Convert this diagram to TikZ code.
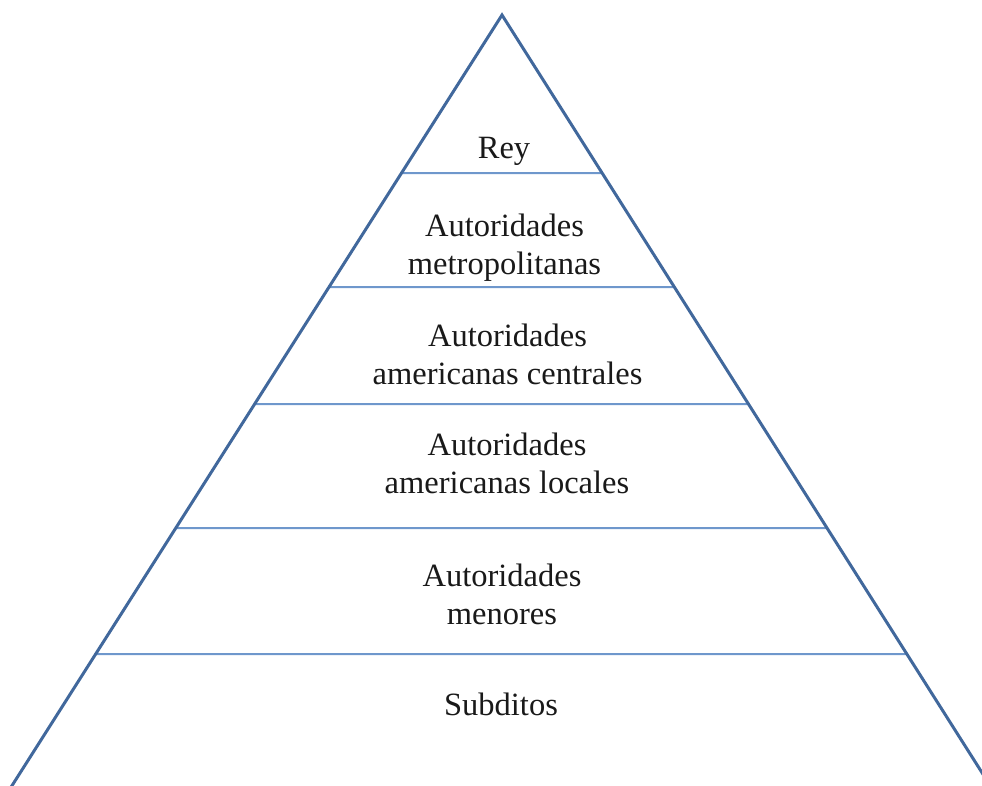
\documentclass[tikz,border=0pt]{standalone}
\usepackage{fontspec}
\setmainfont{Liberation Serif}
\definecolor{edgeblue}{HTML}{41689C}
\definecolor{tierblue}{HTML}{6E97CC}
\begin{document}
\begin{tikzpicture}[x=1pt,y=-1pt,
  side/.style={draw=edgeblue,line width=3pt},
  tier/.style={draw=tierblue,line width=2pt},
  lbl/.style={anchor=base,align=center,inner sep=0pt,font=\fontsize{32.5}{37.5}\selectfont,text=black!90}]
\useasboundingbox (0,0) rectangle (982,785);
\clip (0,0) rectangle (982,785);
\coordinate (apex) at (502,15);
\coordinate (bl) at (-3.5,810);
\coordinate (br) at (1002.5,805);
\foreach \n/\y in {a/173,b/287,c/404,d/528,e/654}{
  \path (intersection of apex--bl and 0,\y--982,\y) coordinate (l\n);
  \path (intersection of apex--br and 0,\y--982,\y) coordinate (r\n);
  \draw[tier] (l\n) -- (r\n);
}
\draw[side] (bl) -- (apex) -- (br);
\node[lbl] (rey) at (504,158) {Rey};
\node[lbl] (metro) at (504.5,274) {Autoridades\\metropolitanas};
\node[lbl] (centr) at (507.5,384) {Autoridades\\americanas centrales};
\node[lbl] (local) at (507,493) {Autoridades\\americanas locales};
\node[lbl] (menor) at (502,624) {Autoridades\\menores};
\node[lbl] (subd) at (501,715) {Subditos};
\end{tikzpicture}
\end{document}
